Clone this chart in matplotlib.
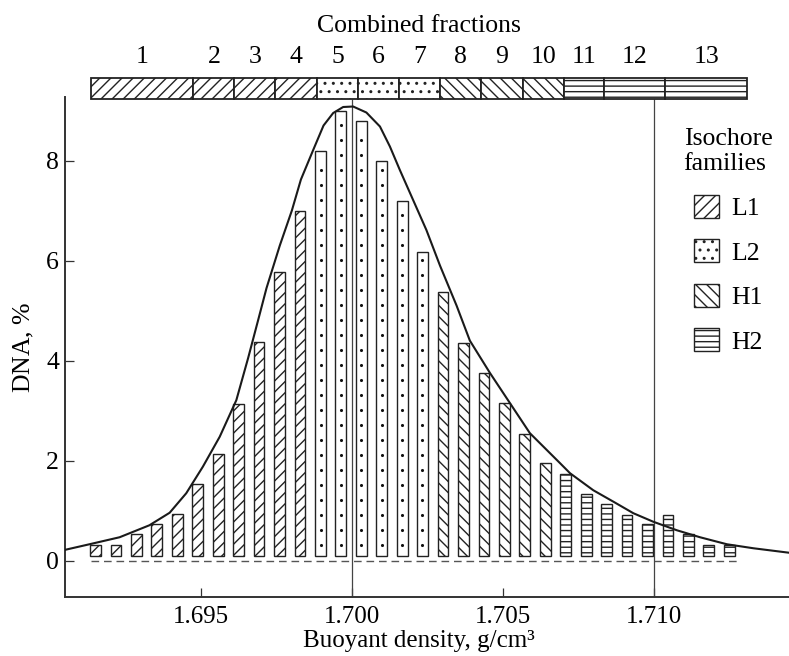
import matplotlib
matplotlib.use("Agg")
import matplotlib.pyplot as plt
from matplotlib.patches import Rectangle, Patch

plt.rcParams["font.family"] = ["Liberation Serif", "DejaVu Serif"]
plt.rcParams["mathtext.fontset"] = "custom"
plt.rcParams["mathtext.rm"] = "Liberation Serif"
plt.rcParams["mathtext.it"] = "Liberation Serif:italic"
plt.rcParams["hatch.linewidth"] = 1.0

# fraction densities (g/cm3) and DNA amount (%)
densities = [1.69149, 1.69217, 1.69285, 1.69352, 1.69420, 1.69488, 1.69556, 1.69623,
             1.69691, 1.69759, 1.69827, 1.69895, 1.69962, 1.70030, 1.70098, 1.70166,
             1.70233, 1.70301, 1.70369, 1.70437, 1.70505, 1.70572, 1.70640, 1.70708,
             1.70776, 1.70843, 1.70911, 1.70979, 1.71047, 1.71114, 1.71182, 1.71250]
dna = [0.31, 0.31, 0.53, 0.73, 0.93, 1.54, 2.14, 3.14, 4.37, 5.78, 7.00, 8.19,
       9.00, 8.80, 7.99, 7.19, 6.17, 5.38, 4.36, 3.75, 3.15, 2.53, 1.95, 1.73,
       1.33, 1.13, 0.92, 0.73, 0.92, 0.53, 0.32, 0.32]
family = ["L1"] * 11 + ["L2"] * 6 + ["H1"] * 6 + ["H2"] * 9

# CsCl profile
curve_x = [1.69042, 1.69129, 1.69229, 1.69328, 1.69395, 1.69450, 1.69505, 1.69561,
           1.69616, 1.69655, 1.69690, 1.69716, 1.69760, 1.69800, 1.69830, 1.69870,
           1.69905, 1.69937, 1.69970, 1.70003, 1.70047, 1.70092, 1.70125, 1.70158,
           1.70202, 1.70246, 1.70291, 1.70346, 1.70390, 1.70457, 1.70523, 1.70589,
           1.70689, 1.70722, 1.70799, 1.70866, 1.70932, 1.70998, 1.71076, 1.71153,
           1.71242, 1.71330, 1.71449]
curve_y = [0.21, 0.33, 0.47, 0.71, 0.96, 1.35, 1.88, 2.48,
           3.21, 4.05, 4.85, 5.45, 6.30, 7.00, 7.62, 8.20,
           8.70, 8.95, 9.07, 9.08, 8.96, 8.68, 8.28, 7.81,
           7.21, 6.61, 5.90, 5.10, 4.40, 3.75, 3.15, 2.55,
           1.95, 1.75, 1.41, 1.18, 0.95, 0.78, 0.61, 0.47,
           0.33, 0.25, 0.16]

# combined fractions (top strip)
comb_edges = [1.69134, 1.69474, 1.69609, 1.69745, 1.69883, 1.70019, 1.70155,
              1.70290, 1.70426, 1.70565, 1.70701, 1.70834, 1.71038, 1.71309]
comb_family = ["L1"] * 4 + ["L2"] * 3 + ["H1"] * 3 + ["H2"] * 3
comb_labels = [str(i) for i in range(1, 14)]

ref_lines = [1.700, 1.710]
xticks = [1.695, 1.700, 1.705, 1.710]
yticks = [0, 2, 4, 6, 8]

hatches = {"L1": "///", "L2": "..", "H1": "\\\\\\", "H2": "---"}
ink = "#222222"
fs = 18.5

fig = plt.figure(figsize=(7.89, 6.56), dpi=100)
ax = fig.add_axes([64.5 / 789, 1 - 597.3 / 656, 1 - 64.5 / 789, (597.3 - 97) / 656])
ax.set_xlim(1.690465, 1.714477)
ax.set_ylim(-0.73, 9.27)

# bars (L2 bars get a column of small dots instead of a hatch)
for fam in ["L1", "L2", "H1", "H2"]:
    xs = [d for d, f in zip(densities, family) if f == fam]
    hs = [v - 0.1 for v, f in zip(dna, family) if f == fam]
    ax.bar(xs, hs, width=0.000355, bottom=0.1, facecolor="white",
           edgecolor=ink, linewidth=1.0, hatch=None if fam == "L2" else hatches[fam],
           zorder=3)
for d, v, f in zip(densities, dna, family):
    if f == "L2":
        dots = [0.31 + 0.3 * k for k in range(int((v - 0.45) / 0.3) + 1)]
        ax.scatter([d] * len(dots), dots, s=5, color="#111111", linewidths=0, zorder=3.5)

ax.plot([densities[0] - 0.00015, densities[-1] + 0.0003], [0, 0], color="#555555",
        lw=1.0, linestyle=(0, (5.5, 3.5)), zorder=2)
ax.vlines(ref_lines, -0.73, 9.24, color="#444444", lw=0.9, zorder=2)
ax.plot(curve_x, curve_y, color="#1a1a1a", lw=1.5, zorder=4)

# top strip
for i, fam in enumerate(comb_family):
    x0, x1 = comb_edges[i], comb_edges[i + 1]
    ax.add_patch(Rectangle((x0, 9.24), x1 - x0, 0.40, facecolor="white", edgecolor=ink,
                           linewidth=1.3, hatch=hatches[fam], clip_on=False, zorder=5))
    ax.text((x0 + x1) / 2, 10.07, comb_labels[i], ha="center", va="center",
            fontsize=fs, clip_on=False)
ax.text((comb_edges[0] + comb_edges[-1]) / 2, 10.68, "Combined fractions",
        ha="center", va="center", fontsize=fs, clip_on=False)

# axes styling
for s in ["top", "right"]:
    ax.spines[s].set_visible(False)
for s in ["left", "bottom"]:
    ax.spines[s].set_linewidth(1.4)
    ax.spines[s].set_color("#333333")
ax.set_xticks(xticks)
ax.set_xticklabels(["%.3f" % t for t in xticks])
ax.set_yticks(yticks)
ax.tick_params(direction="in", length=6.5, width=0.9, labelsize=fs, color="#333333")
ax.tick_params(axis="x", pad=6, labelsize=18)
ax.tick_params(axis="y", pad=4)
ax.set_xlabel("Buoyant density, g/cm\u00b3", fontsize=18)
ax.xaxis.set_label_coords(0.489, -0.0654)
ax.set_ylabel("DNA, $\\mathit{\\%}$", fontsize=fs)
ax.yaxis.set_label_coords(-0.040, 0.5)

handles = [Patch(facecolor="white", edgecolor=ink, hatch=hatches[f], label=f)
           for f in ["L1", "L2", "H1", "H2"]]
leg = ax.legend(handles=handles, title="Isochore\nfamilies", loc="upper center",
                bbox_to_anchor=(728 / 789, 1 - 128 / 656), bbox_transform=fig.transFigure,
                frameon=False, fontsize=fs, title_fontsize=fs, handlelength=1.0,
                handleheight=1.0, handletextpad=0.45, labelspacing=0.75,
                borderaxespad=0, borderpad=0, alignment="center")

fig.savefig("out.png", dpi=100)
